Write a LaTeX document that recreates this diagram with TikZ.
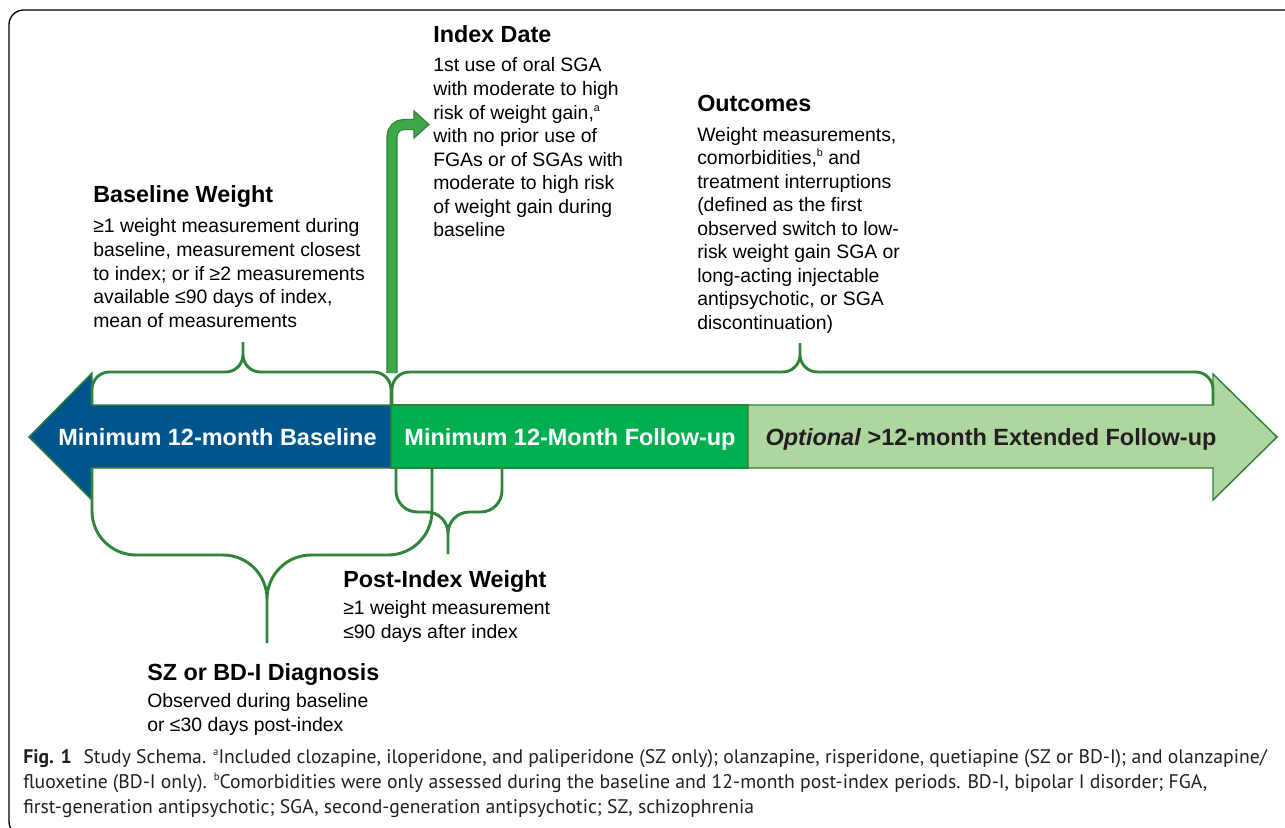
\documentclass[tikz,border=0pt]{standalone}
\usepackage{fontspec}
\setmainfont{Liberation Sans}
\newfontfamily\capfont{PT Sans}

\definecolor{baseblue}{HTML}{00558C}
\definecolor{fupgreen}{HTML}{00B050}
\definecolor{extgreen}{HTML}{AED69E}
\definecolor{edgegreen}{HTML}{2F8038}
\definecolor{bracegreen}{HTML}{31843C}
\definecolor{idxgreen}{HTML}{3CA848}
\definecolor{captext}{HTML}{231F20}

% small footnote marks
\newcommand{\fnmark}[1]{\raisebox{0.75ex}{\fontsize{8}{8}\selectfont #1}}

% multi-line nodes sit on the baseline of their last line
\tikzset{
  infohead/.style={anchor=base west, inner sep=0pt, font=\fontsize{17.5}{21}\selectfont\bfseries},
  infotext/.style={anchor=base west, inner sep=0pt, align=left, font=\fontsize{14.55}{17.65}\selectfont},
  bandtext/.style={anchor=base, inner sep=0pt, font=\fontsize{17.6}{21}\selectfont\bfseries},
  bandpart/.style={draw=edgegreen, line width=1.1pt},
  brace/.style={draw=bracegreen, line width=2.2pt},
}

\begin{document}
\begin{tikzpicture}[x=0.75pt,y=-0.75pt]
  \useasboundingbox (0,0) rectangle (1285,828);
  \clip (0,0) rectangle (1285,828);

  % Draw the figure frame
  \draw[line width=1pt, rounded corners=11pt] (9,10) rectangle (1320,836);

  % Draw the timeline band: baseline, follow-up, extended follow-up
  \filldraw[bandpart, fill=baseblue] (391,405) -- (92,405) -- (92,373) -- (29,437) -- (92,500) -- (92,468) -- (391,468) -- cycle;
  \filldraw[bandpart, fill=fupgreen] (391,405) rectangle (748,468);
  \filldraw[bandpart, fill=extgreen] (748,405) -- (1213,405) -- (1213,374) -- (1277,437) -- (1213,500) -- (1213,468) -- (748,468) -- cycle;

  \node[bandtext, text=white] (basetext) at (217.5,445) {Minimum 12-month Baseline};
  \node[bandtext, text=white] (fuptext) at (570,445) {Minimum 12-Month Follow-up};
  \node[bandtext, text=captext] (exttext) at (991,445) {\textit{Optional} >12-month Extended Follow-up};

  % Draw the index date arrow
  \coordinate (idxfoot) at (392,373);
  \coordinate (idxend) at (415,124.5);
  \draw[line width=8.4pt, edgegreen, rounded corners=9pt] (idxfoot) |- (idxend);
  \draw[line width=6.6pt, idxgreen, rounded corners=9pt] (idxfoot) |- (idxend);
  \fill[idxgreen] (414,111) -- (429,124.5) -- (414,138) -- cycle;
  \draw[edgegreen, line width=0.9pt] (414,119) -- (414,111) -- (429,124.5) -- (414,138) -- (414,130);

  % Draw the braces above the band
  \coordinate (bwtip) at (243,342);
  \coordinate (outtip) at (800,343);
  \draw[brace, rounded corners=13pt] (92,405) -- (92,372) -- (243,372) -- (bwtip)
    (bwtip) -- (243,372) -- (391,372) -- (391,405);
  \draw[brace, rounded corners=13pt] (392,405) -- (392,372) -- (800,372) -- (outtip)
    (outtip) -- (800,372) -- (1213,372) -- (1213,405);

  % Draw the braces below the band
  \coordinate (sztip) at (267,643);
  \coordinate (pitip) at (448,554);
  \draw[brace, rounded corners=33pt] (92,468) -- (92,555) -- (267,555) -- (sztip)
    (sztip) -- (267,555) -- (432,555) -- (432,468);
  \draw[brace, rounded corners=16pt] (396,468) -- (396,512) -- (448,512) -- (pitip)
    (pitip) -- (448,512) -- (502,512) -- (502,468);

  % Index date
  \node[infohead] (idxhead) at (433,42) {Index Date};
  \node[infotext] (idxtext) at (433,236.7) {1st use of oral SGA\\with moderate to high\\risk of weight gain,\fnmark{a}\\with no prior use of\\FGAs or of SGAs with\\moderate to high risk\\of weight gain during\\baseline};

  % Outcomes
  \node[infohead] (outhead) at (697,111) {Outcomes};
  \node[infotext] (outtext) at (697,329.3) {Weight measurements,\\comorbidities,\fnmark{b} and\\treatment interruptions\\(defined as the first\\observed switch to low-\\risk weight gain SGA or\\long-acting injectable\\antipsychotic, or SGA\\discontinuation)};

  % Baseline weight
  \node[infohead] (bwhead) at (93,202) {Baseline Weight};
  \node[infotext] (bwtext) at (93,327.1) {≥1 weight measurement during\\baseline, measurement closest\\to index; or if ≥2 measurements\\available ≤90 days of index,\\mean of measurements};

  % Post-index weight
  \node[infohead] (pihead) at (343,587) {Post-Index Weight};
  \node[infotext] (pitext) at (343,638.5) {≥1 weight measurement\\≤90 days after index};

  % Diagnosis
  \node[infohead] (szhead) at (147,680) {SZ or BD-I Diagnosis};
  \node[infotext] (sztext) at (147,731.5) {Observed during baseline\\or ≤30 days post-index};

  % Caption
  \node[anchor=base west, inner sep=0pt, align=left, text=captext, font=\capfont\fontsize{14.75}{18.75}\selectfont] (caption) at (23,813)
    {\textbf{Fig. 1}\hspace{0.6em}Study Schema. \fnmark{a}Included clozapine, iloperidone, and paliperidone (SZ only); olanzapine, risperidone, quetiapine (SZ or BD-I); and olanzapine/\\fluoxetine (BD-I only). \fnmark{b}Comorbidities were only assessed during the baseline and 12-month post-index periods. BD-I, bipolar I disorder; FGA,\\first-generation antipsychotic; SGA, second-generation antipsychotic; SZ, schizophrenia};
\end{tikzpicture}
\end{document}
